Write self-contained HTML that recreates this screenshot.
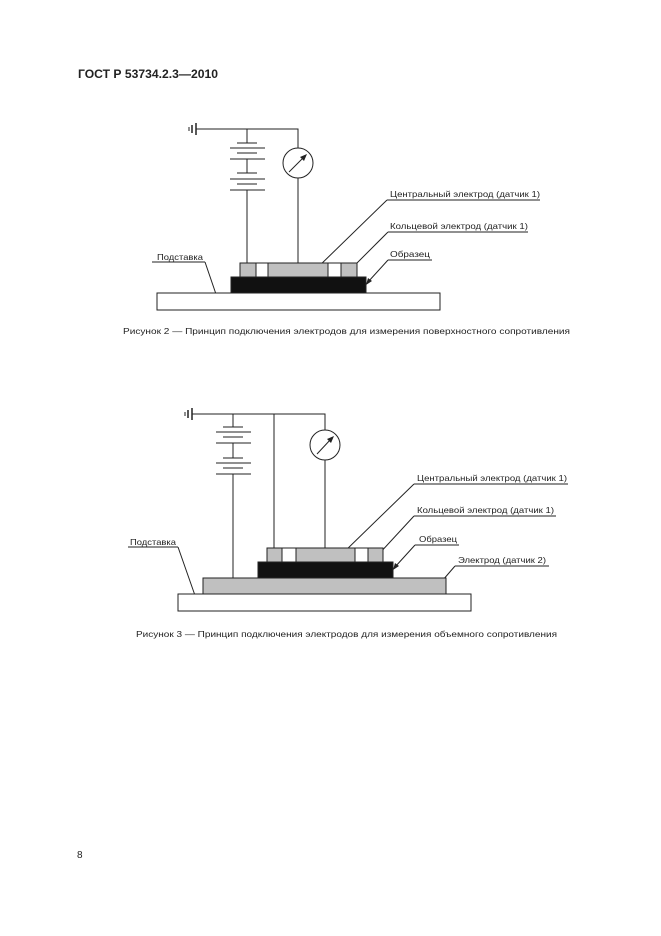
<!DOCTYPE html>
<html><head><meta charset="utf-8"><style>
html,body{margin:0;padding:0;background:#fff;}
svg{display:block;}
text{font-family:"Liberation Sans",sans-serif;fill:#222;}
</style></head><body>
<svg width="661" height="936" viewBox="0 0 661 936" xmlns="http://www.w3.org/2000/svg">
<text x="78" y="78" font-size="11.5" font-weight="bold" textLength="140" lengthAdjust="spacingAndGlyphs">ГОСТ Р 53734.2.3—2010</text>
<text x="77" y="858" font-size="10">8</text>

<g stroke="#222" stroke-width="1" fill="none">
<!-- FIG 1 -->
<line x1="189" y1="127" x2="189" y2="131"/><line x1="192" y1="125" x2="192" y2="133" stroke-width="1.5"/><line x1="196" y1="123" x2="196" y2="135" stroke-width="1.5"/>
<polyline points="196,129 298,129 298,148"/>
<line x1="247" y1="129" x2="247" y2="143"/>
<line x1="237" y1="143" x2="257" y2="143"/><line x1="230" y1="148" x2="265" y2="148"/>
<line x1="237" y1="153" x2="257" y2="153"/><line x1="230" y1="159" x2="265" y2="159"/>
<line x1="247" y1="159" x2="247" y2="173"/>
<line x1="237" y1="173" x2="257" y2="173"/><line x1="230" y1="179" x2="265" y2="179"/>
<line x1="237" y1="184" x2="257" y2="184"/><line x1="230" y1="190" x2="265" y2="190"/>
<line x1="247" y1="190" x2="247" y2="263"/>
<circle cx="298" cy="163" r="15"/>
<line x1="289" y1="172" x2="304" y2="157"/>
<line x1="298" y1="178" x2="298" y2="263"/>
<line x1="387" y1="200" x2="540" y2="200"/><line x1="387" y1="200" x2="315" y2="270"/>
<line x1="388" y1="232" x2="528" y2="232"/><line x1="388" y1="232" x2="350" y2="270"/>
<line x1="388" y1="260" x2="432" y2="260"/><line x1="388" y1="260" x2="368" y2="282"/>
<line x1="152" y1="262" x2="205" y2="262"/><line x1="205" y1="262" x2="218" y2="300"/>
</g>
<polygon points="307,154 300,157 304,161" fill="#222"/>
<polygon points="366,285 368,278 372,281" fill="#222"/>
<g stroke="#222" stroke-width="1">
<rect x="157" y="293" width="283" height="17" fill="#fff"/>
<rect x="231" y="277" width="135" height="16" fill="#111"/>
<rect x="240" y="263" width="16" height="14" fill="#c0c0c0"/>
<rect x="256" y="263" width="12" height="14" fill="#fff"/>
<rect x="268" y="263" width="60" height="14" fill="#c0c0c0"/>
<rect x="328" y="263" width="13" height="14" fill="#fff"/>
<rect x="341" y="263" width="16" height="14" fill="#c0c0c0"/>
</g>
<text x="390" y="197" font-size="8.5" textLength="150" lengthAdjust="spacingAndGlyphs">Центральный электрод (датчик 1)</text>
<text x="390" y="229" font-size="8.5" textLength="138" lengthAdjust="spacingAndGlyphs">Кольцевой электрод (датчик 1)</text>
<text x="390" y="257" font-size="8.5" textLength="40" lengthAdjust="spacingAndGlyphs">Образец</text>
<text x="157" y="260" font-size="8.5" textLength="46" lengthAdjust="spacingAndGlyphs">Подставка</text>
<text x="123" y="334" font-size="7.8" textLength="447" lengthAdjust="spacingAndGlyphs">Рисунок 2 — Принцип подключения электродов для измерения поверхностного сопротивления</text>

<!-- FIG 2 -->
<g stroke="#222" stroke-width="1" fill="none">
<line x1="185" y1="412" x2="185" y2="416"/><line x1="188" y1="410" x2="188" y2="418" stroke-width="1.5"/><line x1="192" y1="408" x2="192" y2="420" stroke-width="1.5"/>
<polyline points="192,414 325,414 325,430"/>
<line x1="233" y1="414" x2="233" y2="427"/>
<line x1="223" y1="427" x2="243" y2="427"/><line x1="216" y1="432" x2="251" y2="432"/>
<line x1="223" y1="437" x2="243" y2="437"/><line x1="216" y1="443" x2="251" y2="443"/>
<line x1="233" y1="443" x2="233" y2="458"/>
<line x1="223" y1="458" x2="243" y2="458"/><line x1="216" y1="463" x2="251" y2="463"/>
<line x1="223" y1="468" x2="243" y2="468"/><line x1="216" y1="474" x2="251" y2="474"/>
<line x1="233" y1="474" x2="233" y2="578"/>
<line x1="274" y1="414" x2="274" y2="548"/>
<circle cx="325" cy="445" r="15"/>
<line x1="317" y1="454" x2="331" y2="439"/>
<line x1="325" y1="460" x2="325" y2="548"/>
<line x1="414" y1="484" x2="568" y2="484"/><line x1="414" y1="484" x2="342" y2="554"/>
<line x1="414" y1="516" x2="556" y2="516"/><line x1="414" y1="516" x2="378" y2="555"/>
<line x1="415" y1="545" x2="459" y2="545"/><line x1="415" y1="545" x2="395" y2="567"/>
<line x1="455" y1="566" x2="549" y2="566"/><line x1="455" y1="566" x2="436" y2="588"/>
<line x1="128" y1="547" x2="178" y2="547"/><line x1="178" y1="547" x2="198" y2="604"/>
</g>
<polygon points="334,436 327,439 331,443" fill="#222"/>
<polygon points="393,570 395,563 399,566" fill="#222"/>
<g stroke="#222" stroke-width="1">
<rect x="178" y="594" width="293" height="17" fill="#fff"/>
<rect x="203" y="578" width="243" height="16" fill="#c0c0c0"/>
<rect x="258" y="562" width="135" height="16" fill="#111"/>
<rect x="267" y="548" width="15" height="14" fill="#c0c0c0"/>
<rect x="282" y="548" width="14" height="14" fill="#fff"/>
<rect x="296" y="548" width="59" height="14" fill="#c0c0c0"/>
<rect x="355" y="548" width="13" height="14" fill="#fff"/>
<rect x="368" y="548" width="15" height="14" fill="#c0c0c0"/>
</g>
<text x="417" y="481" font-size="8.5" textLength="150" lengthAdjust="spacingAndGlyphs">Центральный электрод (датчик 1)</text>
<text x="417" y="513" font-size="8.5" textLength="137" lengthAdjust="spacingAndGlyphs">Кольцевой электрод (датчик 1)</text>
<text x="419" y="542" font-size="8.5" textLength="38" lengthAdjust="spacingAndGlyphs">Образец</text>
<text x="458" y="563" font-size="8.5" textLength="88" lengthAdjust="spacingAndGlyphs">Электрод (датчик 2)</text>
<text x="130" y="545" font-size="8.5" textLength="46" lengthAdjust="spacingAndGlyphs">Подставка</text>
<text x="136" y="637" font-size="7.8" textLength="421" lengthAdjust="spacingAndGlyphs">Рисунок 3 — Принцип подключения электродов для измерения объемного сопротивления</text>
</svg>
</body></html>
